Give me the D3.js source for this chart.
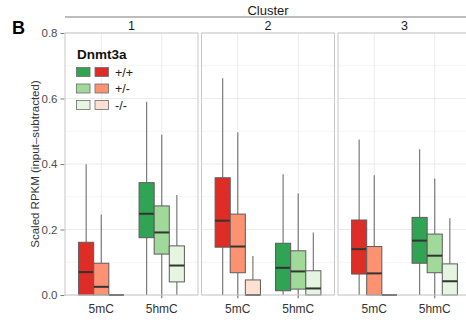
<!DOCTYPE html>
<html>
<head>
<meta charset="utf-8">
<script src="https://cdn.jsdelivr.net/npm/d3@7"></script>
<style>
  html, body { margin: 0; padding: 0; background: #fff; }
  svg { display: block; font-family: "Liberation Sans", Arial, sans-serif; }
</style>
</head>
<body>
<svg id="chart" width="466" height="322"></svg>
<script>
// Facets, x categories and genotype groups
const clusters = ["1", "2", "3"];
const marks = ["5mC", "5hmC"];
const genotypes = ["+/+", "+/-", "-/-"];
const yTicks = [0, 0.2, 0.4, 0.6, 0.8];

// Box statistics, indexed [cluster][mark][genotype]
const whiskerLow = [
  [[0, 0, 0], [0, -0.01, 0]],
  [[0, -0.01, 0], [0, -0.01, 0]],
  [[0, 0, 0], [0, -0.01, 0]]
];
const q1 = [
  [[0, 0, 0], [0.175, 0.125, 0.040]],
  [[0.146, 0.068, 0], [0.013, 0.018, 0]],
  [[0.064, 0, 0], [0.097, 0.068, 0]]
];
const median = [
  [[0.070, 0.025, 0], [0.248, 0.191, 0.090]],
  [[0.227, 0.148, 0], [0.083, 0.072, 0.020]],
  [[0.140, 0.066, 0], [0.166, 0.120, 0.042]]
];
const q3 = [
  [[0.161, 0.097, 0], [0.343, 0.272, 0.150]],
  [[0.358, 0.247, 0.046], [0.158, 0.135, 0.074]],
  [[0.229, 0.148, 0], [0.237, 0.186, 0.095]]
];
const whiskerHigh = [
  [[0.399, 0.246, 0], [0.590, 0.489, 0.305]],
  [[0.662, 0.497, 0.119], [0.369, 0.310, 0.191]],
  [[0.475, 0.366, 0], [0.445, 0.356, 0.234]]
];

// Fill palettes per mark
const reds = ["#de2d26", "#fc9272", "#fee0d2"];
const greens = ["#31a354", "#a1d99b", "#e5f5e0"];
const palette = { "5mC": reds, "5hmC": greens };

const svg = d3.select("#chart");

const panelLeft = 65, panelW = 133, panelGap = 3.5;
const panelTop = 33, panelBottom = 295;

const y = d3.scaleLinear().domain([0, 0.8]).range([panelBottom, panelTop]);

const facetX = d3.scaleOrdinal()
  .domain(clusters)
  .range(clusters.map((c, i) => panelLeft + i * (panelW + panelGap)));

const x = d3.scalePoint().domain(marks).range([0, panelW]).padding(0.6);
const dodgeW = x.step() * 0.75;
const dodge = d3.scaleBand().domain(genotypes).range([-dodgeW / 2, dodgeW / 2]);

// Overall strip title and its rule
const fullRight = facetX(clusters[clusters.length - 1]) + panelW;
svg.append("line")
  .attr("x1", panelLeft).attr("x2", fullRight)
  .attr("y1", 17).attr("y2", 17)
  .attr("stroke", "#a6a6a6").attr("stroke-width", 1.5);
svg.append("text")
  .attr("x", (panelLeft + fullRight) / 2).attr("y", 15)
  .attr("text-anchor", "middle").attr("font-size", 13).attr("fill", "#1a1a1a")
  .text("Cluster");

// Panel label "B"
svg.append("text")
  .attr("x", 12).attr("y", 33.5)
  .attr("font-size", 18).attr("font-weight", "bold").attr("fill", "#000")
  .text("B");

// Y axis title
svg.append("text")
  .attr("transform", `translate(39,${(panelTop + panelBottom) / 2}) rotate(-90)`)
  .attr("text-anchor", "middle").attr("font-size", 11.5).attr("fill", "#333")
  .text("Scaled RPKM (input\u2013subtracted)");

// Y axis ticks and labels
const yAxis = d3.axisLeft(y).tickValues(yTicks).tickFormat(d3.format(".1f")).tickSize(4).tickPadding(3);
const yg = svg.append("g").attr("transform", `translate(${panelLeft - 0.5},0)`).call(yAxis);
yg.select(".domain").remove();
yg.selectAll(".tick line").attr("stroke", "#7f7f7f");
yg.selectAll(".tick text").attr("font-size", 11.5).attr("fill", "#4d4d4d")
  .attr("font-family", "Liberation Sans, Arial, sans-serif");

const minorTicks = [0.1, 0.3, 0.5, 0.7];

clusters.forEach((cl, ci) => {
  const g = svg.append("g").attr("transform", `translate(${facetX(cl)},0)`);

  // strip label
  g.append("text")
    .attr("x", panelW / 2).attr("y", 30)
    .attr("text-anchor", "middle").attr("font-size", 12.5).attr("fill", "#1a1a1a")
    .text(cl);

  // background and grid
  g.append("rect").attr("x", 0).attr("y", panelTop)
    .attr("width", panelW).attr("height", panelBottom - panelTop)
    .attr("fill", "#fff");
  g.selectAll(".minor").data(minorTicks).join("line")
    .attr("x1", 0).attr("x2", panelW)
    .attr("y1", d => y(d)).attr("y2", d => y(d))
    .attr("stroke", "#f3f3f3").attr("stroke-width", 0.8);
  g.selectAll(".major").data(yTicks).join("line")
    .attr("x1", 0).attr("x2", panelW)
    .attr("y1", d => y(d)).attr("y2", d => y(d))
    .attr("stroke", "#ebebeb").attr("stroke-width", 1);
  g.selectAll(".vgrid").data(marks).join("line")
    .attr("x1", d => x(d)).attr("x2", d => x(d))
    .attr("y1", panelTop).attr("y2", panelBottom)
    .attr("stroke", "#ebebeb").attr("stroke-width", 1);

  // boxes
  marks.forEach((mk, mi) => {
    genotypes.forEach((gt, gi) => {
      const x0 = x(mk) + dodge(gt);
      const bw = dodge.bandwidth();
      const cx = x0 + bw / 2;
      const lo = whiskerLow[ci][mi][gi], a = q1[ci][mi][gi], m = median[ci][mi][gi],
            b = q3[ci][mi][gi], hi = whiskerHigh[ci][mi][gi];
      const bx = g.append("g");
      bx.append("line").attr("x1", cx).attr("x2", cx)
        .attr("y1", y(b)).attr("y2", y(hi))
        .attr("stroke", "#7a7a7a").attr("stroke-width", 1.2);
      bx.append("line").attr("x1", cx).attr("x2", cx)
        .attr("y1", y(lo)).attr("y2", y(a))
        .attr("stroke", "#7a7a7a").attr("stroke-width", 1.2);
      bx.append("rect")
        .attr("x", x0).attr("y", y(b))
        .attr("width", bw).attr("height", Math.max(0, y(a) - y(b)))
        .attr("fill", palette[mk][gi])
        .attr("stroke", "#5c5c5c").attr("stroke-width", 1);
      bx.append("line").attr("x1", x0).attr("x2", x0 + bw)
        .attr("y1", y(m)).attr("y2", y(m))
        .attr("stroke", "#333").attr("stroke-width", 2);
    });
  });

  // panel border
  g.append("rect").attr("x", 0).attr("y", panelTop)
    .attr("width", panelW).attr("height", panelBottom - panelTop)
    .attr("fill", "none").attr("stroke", "#c8c8c8").attr("stroke-width", 1);

  // x labels
  g.selectAll(".xl").data(marks).join("text")
    .attr("x", d => x(d)).attr("y", 312.5)
    .attr("text-anchor", "middle").attr("font-size", 12).attr("fill", "#333")
    .text(d => d);
});

// Legend
const leg = svg.append("g");
leg.append("text").attr("x", 77).attr("y", 58.5)
  .attr("font-size", 13.5).attr("font-weight", "bold").attr("fill", "#111")
  .text("Dnmt3a");
genotypes.forEach((gt, gi) => {
  const cy = 72 + gi * 16.5;
  leg.append("rect").attr("x", 76.5).attr("y", cy - 4.5).attr("width", 13.5).attr("height", 9)
    .attr("fill", greens[gi]).attr("stroke", "#6b6b6b").attr("stroke-width", 0.8);
  leg.append("rect").attr("x", 95).attr("y", cy - 4.5).attr("width", 13.5).attr("height", 9)
    .attr("fill", reds[gi]).attr("stroke", "#6b6b6b").attr("stroke-width", 0.8);
  leg.append("text").attr("x", 115).attr("y", cy + 4.5)
    .attr("font-size", 12.5).attr("fill", "#222")
    .text(gt);
});
</script>
</body>
</html>
